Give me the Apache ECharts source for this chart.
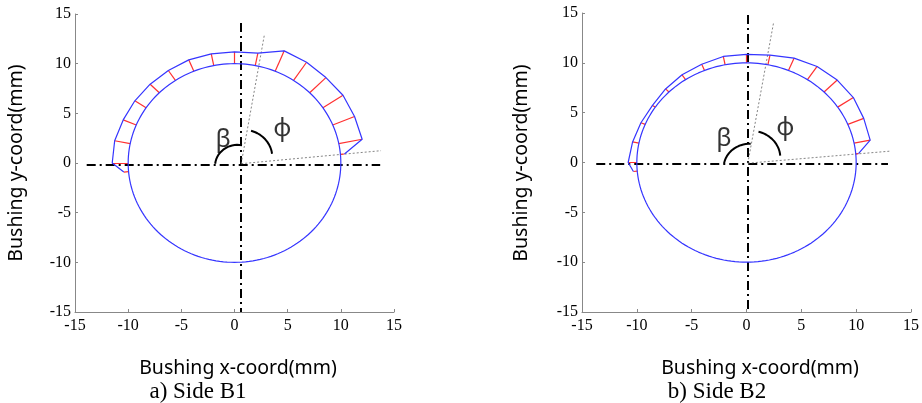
<!DOCTYPE html>
<html>
<head>
<meta charset="utf-8">
<script src="https://cdn.jsdelivr.net/npm/echarts@6/dist/echarts.min.js"></script>
<style>
  html, body { margin: 0; padding: 0; background: #fff; }
  #chart { width: 922px; height: 403px; }
</style>
</head>
<body>
<div id="chart"></div>
<script>
// angular positions (deg) of the measured points around the bushing
const angles = [5, 11.25, 22.5, 33.75, 45, 56.25, 67.5, 78.75, 90, 101.25, 112.5, 123.75, 135, 146.25, 157.5, 168.75, 180, 185]
// radial thickness (mm) outside the bushing circle
const filmB1 = [0.38, 2.24, 2.22, 2.27, 2.16, 2.2, 2.22, 1.27, 1.19, 1.2, 1.24, 1.2, 1.22, 1.27, 1.33, 1.49, 1.5, 0.45]
const filmB2 = [0.25, 1.5, 1.57, 1.72, 1.7, 1.59, 1.33, 0.98, 0.85, 0.85, 0.67, 0.58, 0.44, 0.31, 0.42, 0.59, 0.79, 0.35]
const bushingRadius = 10
const axisTicks = [-15, 15, 5] // min, max, interval

// reference lines per side: centre cross, the two angle rays, the angle arcs
const crossB1 = { x: 0.63, y: -0.17, top: 14.1, left: -13.9, right: 13.7 }
const crossB2 = { x: 0.12, y: -0.13, top: 14.8, left: -13.7, right: 12.9 }
const raysB1 = [[0.63, -0.07], [2.82, 12.96], [13.78, 1.24]]
const raysB2 = [[0.12, -0.07], [2.48, 14.1], [13.1, 1.14]]
// arcs: [cx, cy, r, fromDeg, toDeg]
const arcsB1 = [[0.3, -0.3, 2.13, 79, 174], [0.8, 0.6, 2.75, 7, 74]]
const arcsB2 = [[0.3, -0.5, 2.38, 88, 170], [0.4, 0.5, 2.68, 4, 75]]
const labelsB1 = [['β', -1.06, 2.35], ['ϕ', 4.5, 3.4]]
const labelsB2 = [['β', -2.05, 2.4], ['ϕ', 3.55, 3.45]]

const rad = d => d * Math.PI / 180

function circlePts () {
  let pts = []
  for (let a = 0; a <= 360; a += 2) {
    pts.push([bushingRadius * Math.cos(rad(a)), bushingRadius * Math.sin(rad(a))])
  }
  return pts
}

function arcPts (arc) {
  let [cx, cy, r, a0, a1] = arc
  let pts = []
  for (let k = 0; k <= 30; k++) {
    let a = a0 + (a1 - a0) * k / 30
    pts.push([cx + r * Math.cos(rad(a)), cy + r * Math.sin(rad(a))])
  }
  return pts
}

function sideSeries (idx, film, cross, rays, arcs, labels) {
  let outer = angles.map((a, i) => {
    let r = bushingRadius + film[i]
    return [r * Math.cos(rad(a)), r * Math.sin(rad(a))]
  })
  let spokes = angles.map((a, i) => ({
    coords: [
      [bushingRadius * Math.cos(rad(a)), bushingRadius * Math.sin(rad(a))],
      outer[i]
    ]
  }))
  let base = { xAxisIndex: idx, yAxisIndex: idx, silent: true, animation: false }
  let out = [
    Object.assign({
      type: 'lines',
      coordinateSystem: 'cartesian2d',
      data: [
        { coords: [[cross.x, cross.top], [cross.x, -15]] },
        { coords: [[cross.left, cross.y], [cross.right, cross.y]] }
      ],
      lineStyle: { color: '#000', width: 2, type: [9, 4, 2, 4], opacity: 1 }
    }, base),
    Object.assign({
      type: 'lines',
      coordinateSystem: 'cartesian2d',
      data: [
        { coords: [rays[0], rays[1]] },
        { coords: [rays[0], rays[2]] }
      ],
      lineStyle: { color: '#666', width: 0.8, type: [2, 2], opacity: 1 }
    }, base),
    Object.assign({
      type: 'line',
      data: circlePts(),
      symbol: 'none',
      lineStyle: { color: '#3535ff', width: 1.2 }
    }, base),
    Object.assign({
      type: 'line',
      data: outer,
      symbol: 'none',
      lineStyle: { color: '#3535ff', width: 1.2 }
    }, base),
    Object.assign({
      type: 'lines',
      coordinateSystem: 'cartesian2d',
      data: spokes,
      lineStyle: { color: '#ff3030', width: 1.2, opacity: 1 }
    }, base)
  ]
  arcs.forEach(arc => {
    out.push(Object.assign({
      type: 'line',
      data: arcPts(arc),
      symbol: 'none',
      lineStyle: { color: '#000', width: 2 }
    }, base))
  })
  out.push(Object.assign({
    type: 'scatter',
    symbolSize: 0,
    data: labels.map(l => ({ value: [l[1], l[2]], name: l[0] })),
    label: {
      show: true,
      position: 'inside',
      formatter: p => p.name,
      fontFamily: 'Noto Sans',
      fontSize: 25,
      color: '#000'
    }
  }, base))
  return out
}

function valueAxis (idx, dim) {
  return {
    type: 'value',
    gridIndex: idx,
    min: axisTicks[0],
    max: axisTicks[1],
    interval: axisTicks[2],
    axisLine: { show: true, onZero: false, lineStyle: { color: '#888', width: 1 } },
    axisTick: { show: true, inside: true, length: 3, lineStyle: { color: '#888' } },
    splitLine: { show: false },
    axisLabel: {
      show: true,
      color: '#000',
      fontFamily: '"Liberation Serif", serif',
      fontSize: 16,
      margin: dim === 'x' ? 6 : 4,
      textStyle: { fontFamily: '"Liberation Serif", serif', fontSize: 16, color: '#000' }
    }
  }
}

const titleFont = { fontFamily: 'Noto Sans', fontSize: 19.5, fill: '#000' }
const captionFont = { fontFamily: 'Liberation Serif', fontSize: 23, fill: '#000' }

function txt (text, x, y, font, rotate) {
  return {
    type: 'text',
    x: x,
    y: y,
    rotation: rotate ? Math.PI / 2 : 0,
    style: Object.assign({ text: text, align: 'center', verticalAlign: 'middle' }, font)
  }
}

let chart = echarts.init(document.getElementById('chart'))
chart.setOption({
  animation: false,
  textStyle: { fontFamily: '"Liberation Serif", serif', fontSize: 16 },
  grid: [
    { left: 75, top: 14, width: 319, height: 298 },
    { left: 582, top: 13, width: 329, height: 299 }
  ],
  xAxis: [valueAxis(0, 'x'), valueAxis(1, 'x')],
  yAxis: [valueAxis(0, 'y'), valueAxis(1, 'y')],
  series: [].concat(
    sideSeries(0, filmB1, crossB1, raysB1, arcsB1, labelsB1),
    sideSeries(1, filmB2, crossB2, raysB2, arcsB2, labelsB2)
  ),
  graphic: [
    txt('Bushing y-coord(mm)', 16, 163, titleFont, true),
    txt('Bushing x-coord(mm)', 238, 368, titleFont),
    txt('a) Side B1', 198, 392, captionFont),
    txt('Bushing y-coord(mm)', 521, 163, titleFont, true),
    txt('Bushing x-coord(mm)', 760, 368, titleFont),
    txt('b) Side B2', 717, 392, captionFont)
  ]
})
</script>
</body>
</html>
